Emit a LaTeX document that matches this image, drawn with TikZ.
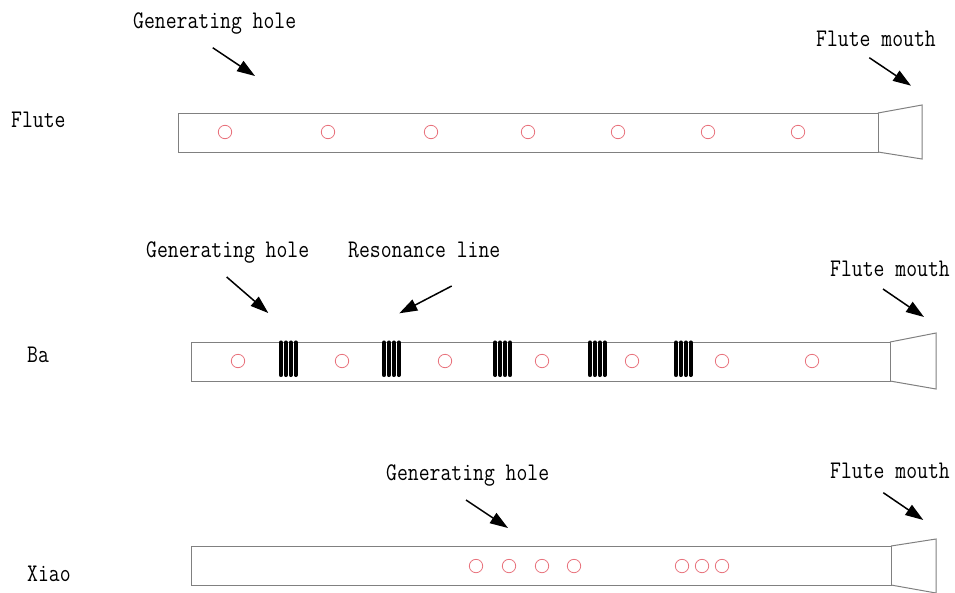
\documentclass[tikz,border=0pt]{standalone}
\usepackage{graphicx}
\usepackage{fontspec}
\usetikzlibrary{arrows.meta}

% tall, narrow monospace lettering
\newcommand\tallword[1]{\scalebox{1}[1.2]{#1}}

\definecolor{tubegray}{HTML}{808080}
\definecolor{holered}{HTML}{E8727C}

\tikzset{
  lbl/.style={font=\ttfamily\fontsize{21.1}{21.1}\selectfont, inner sep=0pt, anchor=base west},
  tube/.style={draw=tubegray, line width=1.0pt},
  hole/.style={draw=holered, line width=0.8pt},
  ring/.style={line width=4.1pt, line cap=round, black},
  ptr/.style={line width=1.5pt, black, -{Triangle[length=18pt,width=12pt]}}
}

\begin{document}
\begin{tikzpicture}[x=1pt, y=-1pt]
\useasboundingbox (0,0) rectangle (955,592);

% ---------- Flute ----------
\node[lbl] (fluteName) at (11,127) {\tallword{Flute}};
\node[lbl] (fluteGen)  at (133,28) {\tallword{Generating hole}};
\node[lbl] (fluteMouth) at (816,46) {\tallword{Flute mouth}};

\draw[tube] (178,113) rectangle (878,152);
\draw[tube] (878,113) -- (922,105) -- (922,159) -- (878,152);
\foreach \x in {225,328,431,528,618,708,798}
  \draw[hole] (\x,132) circle (6.7);

\coordinate (fgT) at (212.7,47.7);
\coordinate (fgH) at (255,76);
\draw[ptr] (fgT) -- (fgH);
\coordinate (fmT) at (869.3,57.7);
\coordinate (fmH) at (911,85.7);
\draw[ptr] (fmT) -- (fmH);

% ---------- Ba ----------
\node[lbl] (baName) at (27,362) {\tallword{Ba}};
\node[lbl] (baGen)  at (146,257) {\tallword{Generating hole}};
\node[lbl] (baRes)  at (348,257) {\tallword{Resonance line}};
\node[lbl] (baMouth) at (830,276) {\tallword{Flute mouth}};

\draw[tube] (191,342) rectangle (890,381);
\draw[tube] (890,342) -- (936,333) -- (936,389) -- (890,381);
\foreach \x in {238,342,445,542,632,722,812}
  \draw[hole] (\x,361) circle (6.7);
% resonance lines: groups of four thick bars
\foreach \g in {281,384,495.3,590,676}
  \foreach \k in {0,1,2,3}
    \draw[ring] (\g+4.9*\k,342.5) -- (\g+4.9*\k,375);

\coordinate (bgT) at (226.7,277);
\coordinate (bgH) at (268.3,313);
\draw[ptr] (bgT) -- (bgH);
\coordinate (brT) at (451.7,286);
\coordinate (brH) at (399.3,313.3);
\draw[ptr] (brT) -- (brH);
\coordinate (bmT) at (883,289);
\coordinate (bmH) at (924,317);
\draw[ptr] (bmT) -- (bmH);

% ---------- Xiao ----------
\node[lbl] (xiaoName) at (27,581) {\tallword{Xiao}};
\node[lbl] (xiaoGen)  at (386,480) {\tallword{Generating hole}};
\node[lbl] (xiaoMouth) at (830,478) {\tallword{Flute mouth}};

\draw[tube] (191,546) rectangle (891,585);
\draw[tube] (891,546) -- (936,539) -- (936,593) -- (891,585);
\foreach \x in {476,509,542,574,682,702,722}
  \draw[hole] (\x,566) circle (6.7);

\coordinate (xgT) at (466,500);
\coordinate (xgH) at (508,528);
\draw[ptr] (xgT) -- (xgH);
\coordinate (xmT) at (883.3,492.7);
\coordinate (xmH) at (923.3,520);
\draw[ptr] (xmT) -- (xmH);
\end{tikzpicture}
\end{document}
